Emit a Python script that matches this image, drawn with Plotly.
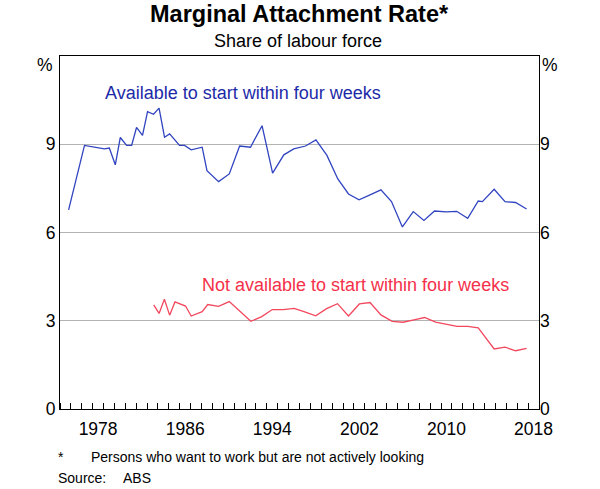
import plotly.graph_objects as go

# Blue series: available to start within four weeks
avail_x = [1975.79, 1977.25, 1979.08, 1979.53, 1980.08, 1980.54, 1981.12, 1981.58,
           1982.03, 1982.58, 1983.04, 1983.59, 1984.10, 1984.60, 1985.07, 1985.98,
           1986.44, 1987.05, 1988.06, 1988.50, 1989.57, 1990.55, 1991.50, 1992.50,
           1993.56, 1994.53, 1995.56, 1996.47, 1997.55, 1998.51, 1999.52, 2000.52,
           2001.50, 2002.47, 2003.48, 2004.48, 2005.45, 2006.45, 2007.45, 2008.43,
           2009.40, 2010.47, 2011.44, 2012.45, 2013.42, 2013.80, 2014.88, 2015.88,
           2016.85, 2017.86]
avail_y = [6.77, 8.96, 8.84, 8.87, 8.30, 9.23, 8.96, 8.96,
           9.57, 9.30, 10.11, 10.02, 10.23, 9.24, 9.35, 8.96,
           8.96, 8.81, 8.90, 8.10, 7.73, 7.99, 8.94, 8.90,
           9.63, 8.02, 8.64, 8.84, 8.94, 9.15, 8.62, 7.82,
           7.31, 7.11, 7.28, 7.45, 7.05, 6.19, 6.71, 6.41,
           6.73, 6.70, 6.72, 6.48, 7.07, 7.05, 7.47, 7.05,
           7.02, 6.80]

# Red series: not available to start within four weeks
notavail_x = [1983.61, 1984.10, 1984.59, 1985.07, 1985.56, 1986.53, 1987.05, 1988.06,
              1988.57, 1989.57, 1990.55, 1992.53, 1993.53, 1994.50, 1995.50, 1996.51,
              1997.48, 1998.49, 1999.49, 2000.49, 2001.50, 2002.50, 2003.48, 2004.48,
              2005.51, 2006.51, 2007.51, 2008.49, 2009.50, 2010.47, 2011.47, 2012.45,
              2013.42, 2014.88, 2015.88, 2016.85, 2017.86]
notavail_y = [3.54, 3.25, 3.73, 3.19, 3.64, 3.50, 3.16, 3.31,
              3.55, 3.49, 3.65, 2.98, 3.14, 3.38, 3.38, 3.42,
              3.30, 3.17, 3.41, 3.58, 3.16, 3.57, 3.62, 3.20,
              2.98, 2.95, 3.03, 3.11, 2.95, 2.89, 2.81, 2.81,
              2.76, 2.04, 2.10, 1.98, 2.06]

year_labels = ["1978", "1986", "1994", "2002", "2010", "2018"]
year_label_pos = [1978.5, 1986.5, 1994.5, 2002.5, 2010.5, 2018.5]
y_ticks = [0, 3, 6, 9]

BLUE_LINE = "#3044c0"
BLUE_TEXT = "#1c2aa8"
RED_LINE = "#f2485e"
RED_TEXT = "#f5304a"
FONT = "Liberation Sans, Arial, sans-serif"
FS = 17.5

L, R, T, B = 60, 60.5, 56, 80
PW = 600 - L - R
PH = 489 - T - B


def py(pix):
    """paper y from page pixel y"""
    return 1 - (pix - T) / PH


def px(pix):
    return (pix - L) / PW


fig = go.Figure()
fig.add_trace(go.Scatter(x=avail_x, y=avail_y, mode="lines",
                         line=dict(color=BLUE_LINE, width=1.3), showlegend=False))
fig.add_trace(go.Scatter(x=notavail_x, y=notavail_y, mode="lines",
                         line=dict(color=RED_LINE, width=1.3), showlegend=False))
# invisible trace for right axis
fig.add_trace(go.Scatter(x=[1975], y=[0], yaxis="y2", mode="markers",
                         marker=dict(opacity=0), showlegend=False, hoverinfo="skip"))

fig.update_layout(
    width=600, height=489,
    margin=dict(l=L, r=R, t=T, b=B, autoexpand=False),
    paper_bgcolor="white", plot_bgcolor="white",
    font=dict(family=FONT, size=FS, color="black"),
    xaxis=dict(range=[1975, 2019], tickvals=year_label_pos, ticktext=year_labels,
               ticks="", showgrid=False, zeroline=False,
               showline=True, linecolor="black", linewidth=1, mirror=True,
               tickfont=dict(size=FS), automargin=False, ticklabelstandoff=4,
               minor=dict(tick0=1975, dtick=1, ticks="inside", ticklen=6,
                          tickcolor="black", tickwidth=1, showgrid=False)),
    yaxis=dict(range=[0, 12], tickvals=y_ticks, ticktext=[str(v) for v in y_ticks],
               showgrid=True, gridcolor="#b3b3b3", gridwidth=1, zeroline=False,
               showline=True, linecolor="black", linewidth=1, mirror=True,
               ticks="", tickfont=dict(size=FS), automargin=False),
    yaxis2=dict(range=[0, 12], tickvals=y_ticks, ticktext=[str(v) for v in y_ticks],
                overlaying="y", side="right", showgrid=False, zeroline=False,
                showline=False, ticks="", tickfont=dict(size=FS), automargin=False),
)

annots = [
    dict(text="<b>Marginal Attachment Rate*</b>", xref="paper", yref="paper",
         x=px(300), y=py(14), font=dict(size=23.5)),
    dict(text="Share of labour force", xref="paper", yref="paper",
         x=px(298), y=py(41), font=dict(size=18)),
    dict(text="%", xref="paper", yref="paper", x=px(55), y=py(65),
         xanchor="right", font=dict(size=FS)),
    dict(text="%", xref="paper", yref="paper", x=px(541), y=py(65),
         xanchor="left", font=dict(size=FS)),
    dict(text="Available to start within four weeks", xref="x", yref="y",
         x=1978.95, y=10.75, xanchor="left", font=dict(size=18, color=BLUE_TEXT)),
    dict(text="Not available to start within four weeks", xref="x", yref="y",
         x=1987.85, y=4.2, xanchor="left", font=dict(size=18, color=RED_TEXT)),
    dict(text="*", xref="paper", yref="paper", x=px(56), y=py(457),
         xanchor="left", font=dict(size=14)),
    dict(text="Persons who want to work but are not actively looking", xref="paper",
         yref="paper", x=px(89), y=py(457), xanchor="left",
         font=dict(size=14)),
    dict(text="Source:", xref="paper", yref="paper", x=px(56), y=py(478),
         xanchor="left", font=dict(size=14)),
    dict(text="ABS", xref="paper", yref="paper", x=px(121),
         y=py(478), xanchor="left", font=dict(size=14)),
]
for a in annots:
    a.setdefault("showarrow", False)
    a.setdefault("yanchor", "middle")
fig.update_layout(annotations=annots)

fig.write_html("out.html", config={"displayModeBar": False},
               post_script="document.body.style.margin='0';document.body.style.padding='0';")
